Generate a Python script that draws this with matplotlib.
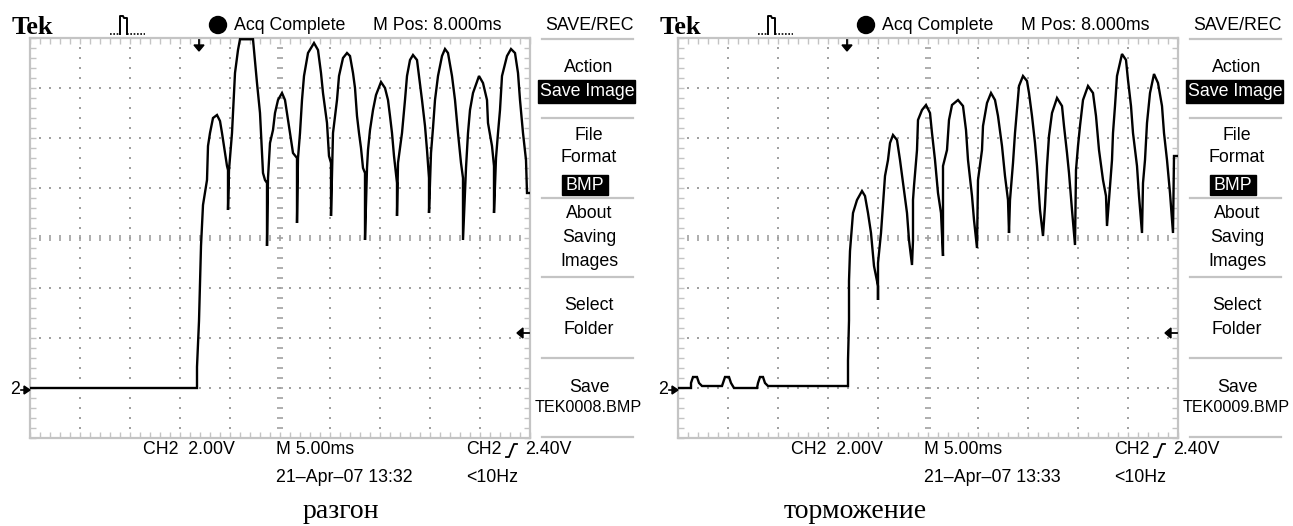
import numpy as np
import matplotlib
matplotlib.use("Agg")
import matplotlib.pyplot as plt
from matplotlib.patches import Rectangle, Ellipse, Polygon
from matplotlib.ticker import MultipleLocator

# ---------------- data (time in ms, CH2 voltage in V, ground = 0 V) ----------------
# "разгон" (acceleration) trace
accel_trace = [
    (0, 0), (16.7, 0), (16.7, 0.84), (16.9, 2.68), (17.1, 5.68), (17.3, 7.32), (17.7, 8.32),
    (17.8, 9.68), (18.0, 10.2), (18.3, 10.8), (18.7, 10.92), (19.0, 10.68), (19.2, 10.2),
    (19.4, 9.68), (19.7, 8.88), (19.8, 8.72), (19.8, 7.12), (19.9, 8.72), (20.2, 10.2),
    (20.5, 12.6), (20.8, 13.52), (21.0, 13.95), (22.3, 13.95), (22.7, 12.2), (23.0, 11.0),
    (23.3, 8.6), (23.5, 8.32), (23.7, 8.2), (23.7, 5.68), (23.8, 8.4), (24.0, 9.8),
    (24.3, 10.32), (24.5, 11.0), (24.8, 11.52), (25.2, 11.8), (25.5, 11.52), (25.7, 11.0),
    (26.0, 10.2), (26.3, 9.4), (26.7, 9.2), (26.7, 6.6), (26.8, 9.2), (27.0, 10.2),
    (27.2, 11.52), (27.4, 12.48), (27.8, 13.4), (28.4, 13.8), (28.8, 13.52), (29.1, 12.6),
    (29.3, 11.8), (29.7, 10.6), (29.9, 9.28), (30.1, 9.0), (30.1, 6.88), (30.3, 10.2),
    (30.7, 11.52), (30.9, 12.48), (31.3, 13.2), (31.7, 13.4), (32.0, 13.28), (32.3, 12.6),
    (32.5, 12.0), (32.7, 10.88), (32.9, 10.2), (33.1, 9.6), (33.3, 8.8), (33.5, 8.6),
    (33.5, 5.92), (33.7, 8.8), (33.8, 9.52), (34.0, 10.32), (34.3, 11.12), (34.6, 11.72),
    (35.1, 12.24), (35.5, 12.0), (35.8, 11.52), (36.0, 10.88), (36.2, 10.2), (36.4, 9.28),
    (36.7, 8.2), (36.7, 6.88), (36.8, 9.0), (37.2, 10.2), (37.5, 11.52), (37.7, 12.48),
    (38.0, 13.12), (38.3, 13.32), (38.7, 13.12), (38.9, 12.48), (39.2, 11.52), (39.5, 10.48),
    (39.7, 9.52), (39.9, 8.4), (39.9, 7.0), (40.1, 9.4), (40.3, 10.4), (40.5, 11.52),
    (40.8, 12.48), (41.2, 13.28), (41.5, 13.56), (41.8, 13.4), (42.2, 12.48), (42.5, 11.52),
    (42.8, 10.2), (43.1, 9.0), (43.3, 8.4), (43.3, 5.92), (43.6, 8.8), (43.8, 10.2),
    (44.0, 11.12), (44.3, 11.8), (44.9, 12.48), (45.3, 12.2), (45.7, 11.52), (45.8, 10.6),
    (46.2, 9.68), (46.4, 8.88), (46.4, 7.0), (46.6, 9.2), (46.8, 10.2), (47.0, 11.12),
    (47.2, 12.48), (47.7, 13.28), (48.1, 13.56), (48.5, 13.4), (48.8, 12.6), (49.0, 11.52),
    (49.3, 10.2), (49.6, 9.12), (49.7, 7.8), (50.0, 7.8),
]

# "торможение" (braking) trace
brake_trace = [
    (0, 0), (1.3, 0), (1.3, 0.2), (1.5, 0.44), (1.9, 0.44), (2.1, 0.2), (2.4, 0.08),
    (4.4, 0.08), (4.5, 0.2), (4.7, 0.44), (5.1, 0.44), (5.3, 0.2), (5.6, 0.0), (7.9, 0.0),
    (8.0, 0.2), (8.2, 0.44), (8.5, 0.44), (8.7, 0.2), (9.0, 0.08), (17.0, 0.08), (17.0, 1.1),
    (17.1, 2.7), (17.1, 4.28), (17.2, 5.48), (17.4, 6.48), (17.5, 7.0), (17.9, 7.52),
    (18.4, 7.88), (18.7, 7.68), (19.0, 7.0), (19.3, 6.2), (19.6, 4.88), (20.0, 4.08),
    (20.0, 3.52), (20.0, 5.0), (20.3, 6.2), (20.7, 8.48), (21.0, 9.12), (21.2, 9.8),
    (21.5, 10.12), (21.9, 9.92), (22.2, 9.12), (22.5, 8.2), (22.9, 7.0), (23.1, 5.92),
    (23.4, 4.92), (23.5, 5.9), (23.5, 7.52), (23.6, 8.08), (23.9, 9.52), (24.0, 10.72),
    (24.4, 11.12), (24.8, 11.32), (25.2, 11.0), (25.4, 10.2), (25.7, 9.12), (26.0, 7.8),
    (26.3, 7.0), (26.5, 5.28), (26.5, 8.88), (26.9, 9.52), (27.1, 10.72), (27.4, 11.32),
    (28.0, 11.52), (28.5, 11.28), (28.8, 10.32), (29.0, 9.12), (29.4, 7.68), (29.6, 6.72),
    (29.9, 5.6), (30.0, 8.32), (30.4, 9.52), (30.5, 10.48), (30.9, 11.4), (31.3, 11.8),
    (31.7, 11.52), (32.0, 10.88), (32.4, 9.68), (32.7, 8.48), (33.0, 7.52), (33.1, 6.2),
    (33.2, 7.52), (33.5, 9.0), (33.7, 10.2), (33.9, 11.12), (34.1, 12.08), (34.5, 12.48),
    (34.9, 12.28), (35.1, 11.8), (35.4, 10.88), (35.7, 9.8), (35.9, 8.88), (36.2, 7.12),
    (36.5, 6.08), (36.7, 7.28), (36.9, 8.88), (37.1, 10.08), (37.4, 11.0), (37.9, 11.6),
    (38.4, 11.28), (38.6, 10.48), (38.9, 9.4), (39.1, 8.6), (39.4, 7.12), (39.7, 5.72),
    (39.8, 8.72), (40.0, 9.68), (40.2, 10.48), (40.5, 11.52), (41.0, 12.08), (41.5, 11.8),
    (41.8, 10.88), (42.1, 9.52), (42.5, 8.32), (42.8, 7.68), (42.9, 6.48), (43.2, 8.08),
    (43.4, 9.12), (43.5, 10.2), (43.7, 11.28), (43.9, 12.48), (44.4, 13.36), (44.8, 13.12),
    (45.0, 12.32), (45.3, 11.28), (45.5, 10.2), (45.9, 8.88), (46.1, 7.68), (46.4, 6.2),
    (46.5, 8.2), (46.7, 9.12), (46.9, 10.6), (47.2, 11.8), (47.6, 12.56), (48.0, 12.2),
    (48.4, 11.28), (48.6, 10.2), (48.9, 9.12), (49.2, 7.8), (49.5, 6.2), (49.6, 9.28),
    (50.0, 9.28),
]

captions = ["разгон", "торможение"]
save_names = ["TEK0008.BMP", "TEK0009.BMP"]
timestamps = ["21\u2013Apr\u201307 13:32", "21\u2013Apr\u201307 13:33"]
header_pos = "M Pos: 8.000ms"
ch_scale = "CH2  2.00V"
time_scale = "M 5.00ms"
trig_level = "2.40V"
trig_freq = "<10Hz"
menu_items = ["Action", "File", "Format", "About", "Saving", "Images", "Select", "Folder", "Save"]

# ---------------- figure ----------------
W, H = 1293, 526
fig = plt.figure(figsize=(W / 100, H / 100), dpi=100)

GT, GB, GW = 38, 438, 500
GRID_C = "#a0a0a0"
BORDER_C = "#c4c4c4"
SANS = "Liberation Sans"
FS = 12.8

ov = fig.add_axes([0, 0, 1, 1], zorder=10)
ov.set_xlim(0, W)
ov.set_ylim(H, 0)
ov.axis("off")
ov.patch.set_visible(False)


def panel(x0, trace):
    ax = fig.add_axes([x0 / W, 1 - GB / H, GW / W, (GB - GT) / H])
    ax.set_xlim(0, 50)
    ax.set_ylim(-2, 14)
    for s in ax.spines.values():
        s.set_color(BORDER_C)
        s.set_linewidth(1.6)
    ax.xaxis.set_major_locator(MultipleLocator(1))
    ax.yaxis.set_major_locator(MultipleLocator(0.4))
    ax.tick_params(which="both", direction="in", length=4, width=1, color=BORDER_C,
                   top=True, right=True, labelbottom=False, labelleft=False)
    # dotted graticule
    ys = np.arange(-2, 14.01, 0.4)
    xs = np.arange(0, 50.01, 1.0)
    for gx in [5, 10, 15, 20, 30, 35, 40, 45]:
        ax.scatter(np.full(ys.size, gx), ys, s=1.3, marker="s", color=GRID_C, linewidths=0)
    for gy in [0, 2, 4, 8, 10, 12]:
        ax.scatter(xs, np.full(xs.size, gy), s=1.3, marker="s", color=GRID_C, linewidths=0)
    # centre cross with tick marks
    ax.plot(np.full(ys.size, 25), ys, ls="none", marker="_", ms=5, mew=1.2, color=GRID_C)
    ax.plot(xs, np.full(xs.size, 6), ls="none", marker="|", ms=5, mew=1.2, color=GRID_C)
    t = [p[0] for p in trace]
    v = [p[1] for p in trace]
    ax.plot(t, v, color="black", lw=1.7, zorder=5, solid_joinstyle="miter")
    return ax


for i, (x0, trace) in enumerate([(30, accel_trace), (678, brake_trace)]):
    panel(x0, trace)
    dx = x0 - 30
    cx = 589 + dx

    # header
    ov.text(12 + dx, 27, "Tek", fontfamily="Liberation Serif", fontweight="bold",
            fontsize=19, va="center", ha="left")
    ov.plot([110 + dx, 120 + dx], [34, 34], ls=(0, (1, 1)), lw=1.2, color="black")
    ov.plot([120 + dx, 120 + dx, 123 + dx, 124 + dx, 127 + dx, 127 + dx],
            [34, 16, 16, 18, 18, 34], lw=1.4, color="black")
    ov.plot([127 + dx, 145 + dx], [34, 34], ls=(0, (1, 1)), lw=1.2, color="black")
    ov.add_patch(Ellipse((218 + dx, 25), 17, 17, color="black"))
    ov.text(234 + dx, 25, "Acq Complete", fontfamily=SANS, fontsize=FS, va="center", ha="left")
    ov.text(373 + dx, 25, header_pos, fontfamily=SANS, fontsize=FS, va="center", ha="left")
    ov.text(cx, 25, "SAVE/REC", fontfamily=SANS, fontsize=FS, va="center", ha="center")

    # right menu
    for sy in [39, 118, 198, 277, 358, 437]:
        ov.plot([542 + dx, 633 + dx], [sy, sy], color=BORDER_C, lw=1.6)
    ov.text(cx, 67, menu_items[0], fontfamily=SANS, fontsize=FS, va="center", ha="center")
    ov.add_patch(Rectangle((538 + dx, 80), 97, 23, color="black"))
    ov.text(cx - 2, 91, "Save Image", fontfamily=SANS, fontsize=FS, va="center", ha="center",
            color="white")
    ov.text(cx, 135, menu_items[1], fontfamily=SANS, fontsize=FS, va="center", ha="center")
    ov.text(cx, 158, menu_items[2], fontfamily=SANS, fontsize=FS, va="center", ha="center")
    ov.add_patch(Rectangle((562 + dx, 175), 46, 20, color="black"))
    ov.text(585 + dx, 185, "BMP", fontfamily=SANS, fontsize=FS, va="center", ha="center",
            color="white")
    ov.text(cx, 213, menu_items[3], fontfamily=SANS, fontsize=FS, va="center", ha="center")
    ov.text(cx, 238, menu_items[4], fontfamily=SANS, fontsize=FS, va="center", ha="center")
    ov.text(cx, 262, menu_items[5], fontfamily=SANS, fontsize=FS, va="center", ha="center")
    ov.text(cx, 305, menu_items[6], fontfamily=SANS, fontsize=FS, va="center", ha="center")
    ov.text(cx, 329, menu_items[7], fontfamily=SANS, fontsize=FS, va="center", ha="center")
    ov.text(cx, 387, menu_items[8], fontfamily=SANS, fontsize=FS, va="center", ha="center")
    ov.text(cx - 1, 408, save_names[i], fontfamily=SANS, fontsize=11.6, va="center",
            ha="center")

    # bottom status
    ov.text(143 + dx, 450, ch_scale, fontfamily=SANS, fontsize=FS, va="center", ha="left")
    ov.text(276 + dx, 450, time_scale, fontfamily=SANS, fontsize=FS, va="center", ha="left")
    ov.text(276 + dx, 477, timestamps[i], fontfamily=SANS, fontsize=FS, va="center", ha="left")
    ov.text(466 + dx, 450, "CH2", fontfamily=SANS, fontsize=FS, va="center", ha="left")
    ov.plot([506 + dx, 509 + dx, 514 + dx, 517 + dx], [457, 457, 444, 444], lw=1.3, color="black")
    ov.text(525 + dx, 450, trig_level, fontfamily=SANS, fontsize=FS, va="center", ha="left")
    ov.text(466 + dx, 477, trig_freq, fontfamily=SANS, fontsize=FS, va="center", ha="left")

    # markers
    ov.text(15 + dx, 390, "2", fontfamily=SANS, fontsize=FS, va="center", ha="center")
    ov.plot([21 + dx, 25 + dx], [390, 390], lw=1.2, color="black")
    ov.add_patch(Polygon([(24 + dx, 386), (30 + dx, 390), (24 + dx, 394)], color="black"))
    ov.plot([199 + dx, 199 + dx], [40, 46], lw=1.3, color="black")
    ov.add_patch(Polygon([(194 + dx, 45), (204 + dx, 45), (199 + dx, 51)], color="black"))
    ov.plot([523 + dx, 529 + dx], [333, 333], lw=1.3, color="black")
    ov.add_patch(Polygon([(517 + dx, 333), (523 + dx, 328), (523 + dx, 338)], color="black"))

    # caption
    ov.text(341 if i == 0 else 855, 512, captions[i], fontfamily="Liberation Serif",
            fontsize=20, va="center", ha="center")

fig.savefig("out.png", dpi=100)
